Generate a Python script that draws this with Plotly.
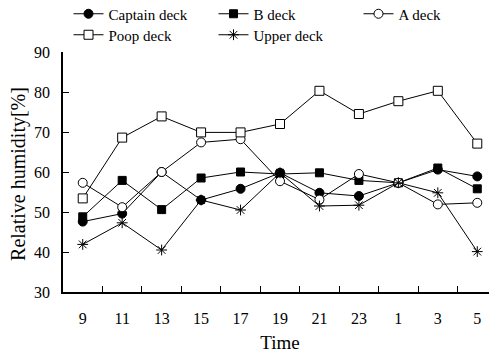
import plotly.graph_objects as go

times = ["9", "11", "13", "15", "17", "19", "21", "23", "1", "3", "5"]
captain = [47.6, 49.6, 60.0, 53.0, 55.8, 59.8, 54.8, 54.0, 57.3, 60.6, 58.9]
b_deck = [48.8, 57.9, 50.6, 58.5, 60.0, 59.5, 59.8, 57.9, 57.3, 61.0, 55.8]
a_deck = [57.3, 51.2, 60.0, 67.4, 68.2, 57.7, 53.1, 59.5, 57.3, 51.9, 52.3]
poop = [53.4, 68.6, 73.9, 69.9, 69.9, 72.0, 80.3, 74.5, 77.7, 80.3, 67.1]
upper = [41.9, 47.3, 40.5, 53.0, 50.5, 59.8, 51.5, 51.7, 57.3, 54.8, 40.1]

FONT = "Liberation Serif"

fig = go.Figure()

def add(name, y, symbol, fill, size, legend):
    fig.add_trace(go.Scatter(
        x=times, y=y, name=name, mode="lines+markers",
        line=dict(color="black", width=1),
        marker=dict(symbol=symbol, size=size, color=fill,
                    line=dict(color="black", width=1)),
        legend=legend,
    ))

add("Captain deck", captain, "circle", "black", 9, "legend")
add("B deck", b_deck, "square", "black", 8, "legend")
add("A deck", a_deck, "circle", "white", 9, "legend")
add("Poop deck", poop, "square", "white", 9, "legend2")
add("Upper deck", upper, "asterisk-open", "black", 9, "legend2")

# The page body has an 8px default margin; the figure is sized so it fits the window.
W, H = 489, 345
ML, MT, MB = 55, 44, 61
PW = W - ML

legend_common = dict(orientation="h", xref="paper", yref="container",
                     xanchor="left", yanchor="middle",
                     entrywidth=100, entrywidthmode="pixels",
                     font=dict(family=FONT, size=15), traceorder="normal",
                     bgcolor="rgba(0,0,0,0)", itemwidth=30)

fig.update_layout(
    width=W, height=H,
    margin=dict(l=ML, r=0, t=MT, b=MB, autoexpand=False),
    paper_bgcolor="white", plot_bgcolor="white",
    font=dict(family=FONT, size=16, color="black"),
    showlegend=True,
    legend=dict(x=5.5 / PW, y=1 - 6 / H, **legend_common),
    legend2=dict(x=5.5 / PW, y=1 - 27 / H, **legend_common),
    xaxis=dict(type="category", categoryorder="array", categoryarray=times,
               range=[-0.5, len(times) - 0.5],
               showline=True, linecolor="black", linewidth=1.6,
               ticks="inside", tickson="boundaries", ticklen=6, tickcolor="black",
               showgrid=False, zeroline=False, mirror=False, automargin=False,
               ticklabelstandoff=11,
               tickfont=dict(family=FONT, size=16),
               title=dict(text="Time", font=dict(family=FONT, size=19), standoff=11)),
    yaxis=dict(range=[30, 90], dtick=10, tick0=30,
               showline=True, linecolor="black", linewidth=1.6,
               ticks="inside", ticklen=6, tickcolor="black",
               showgrid=False, zeroline=False, automargin=False,
               ticklabelstandoff=8,
               tickfont=dict(family=FONT, size=16)),
    annotations=[dict(text="Relative humidity[%]", xref="paper", yref="paper",
                      x=(11 - ML) / PW, y=0.492, xanchor="center", yanchor="middle",
                      textangle=-90, showarrow=False,
                      font=dict(family=FONT, size=20))],
)

fig.write_html("out.html")
